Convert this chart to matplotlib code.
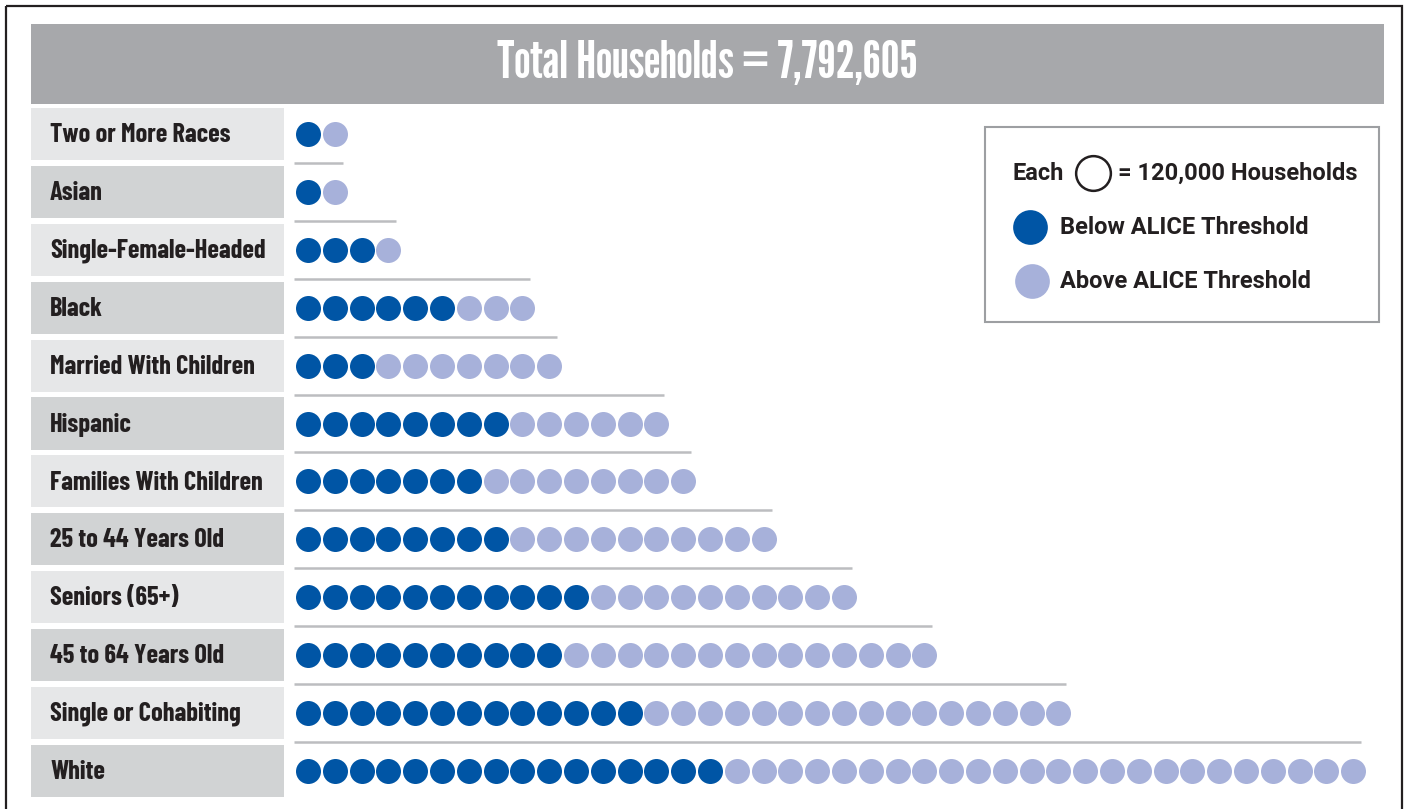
import matplotlib
matplotlib.use("Agg")
import matplotlib.pyplot as plt
from matplotlib.patches import Rectangle

categories = ["Two or More Races", "Asian", "Single-Female-Headed", "Black",
              "Married With Children", "Hispanic", "Families With Children",
              "25 to 44 Years Old", "Seniors (65+)", "45 to 64 Years Old",
              "Single or Cohabiting", "White"]
below_alice = [1, 1, 3, 6, 3, 8, 7, 8, 11, 10, 13, 16]
above_alice = [1, 1, 1, 3, 7, 6, 8, 10, 10, 14, 16, 24]
title_text = "Total Households = 7,792,605"
unit_text = "= 120,000 Households"

DARK = "#0055a5"
LIGHT = "#a7b1da"
TXT = "#231f20"
TITLE_FONT = ["League Gothic", "Oswald", "DejaVu Sans"]
LABEL_FONT = ["Barlow Condensed", "League Gothic", "DejaVu Sans"]

W, H = 1409, 809
fig = plt.figure(figsize=(W / 100, H / 100), dpi=100)

# background axes in pixel coordinates
bg = fig.add_axes([0, 0, 1, 1])
bg.set_xlim(0, W)
bg.set_ylim(H, 0)
bg.axis("off")
bg.add_patch(Rectangle((6, 6), 1396, 820, fill=False, ec=TXT, lw=1.6, clip_on=False))
bg.add_patch(Rectangle((31, 24), 1353, 80, fc="#a7a8ab", ec="none"))
bg.text(707, 64, title_text, color="white", fontsize=38, family=TITLE_FONT,
        ha="center", va="center")

# legend
bg.add_patch(Rectangle((985, 127), 394, 195, fill=False, ec="#9d9fa2", lw=1.5))
lf = dict(family=["Roboto", "DejaVu Sans"], fontweight="bold", fontstretch="normal",
          fontsize=17, color=TXT, va="center")
bg.text(1012, 173, "Each", **lf)
bg.scatter([1093], [173], s=25 ** 2, facecolor="white", edgecolor=TXT, lw=1.8)
bg.text(1118, 173, unit_text, **lf)
bg.scatter([1030], [227], s=25 ** 2, color=DARK, lw=0)
bg.text(1060, 227, "Below ALICE Threshold", **lf)
bg.scatter([1032], [281], s=25 ** 2, color=LIGHT, lw=0)
bg.text(1060, 281, "Above ALICE Threshold", **lf)

# geometry for rows
y0_px, y1_px = 105, 800
pitch = 57.9
first = 134
ylo = (y0_px - first) / pitch
yhi = (y1_px - first) / pitch

# label panel
lab = fig.add_axes([31 / W, 1 - y1_px / H, (284 - 31) / W, (y1_px - y0_px) / H])
n = len(categories)
rows = list(range(n))
lab.barh(rows, [1] * n, left=0, height=0.9,
         color=["#e6e7e8" if i % 2 == 0 else "#d1d3d4" for i in rows])
lab.set_xlim(0, 1)
lab.set_ylim(yhi, ylo)
lab.axis("off")
for i, c in enumerate(categories):
    lab.text(0.075, i + 0.02, c, fontsize=19, fontweight="bold", color=TXT, family=LABEL_FONT,
             va="center", ha="left")

# dot panel
sp = 26.8
x_left_px, x_right_px = 293, 1385
ax = fig.add_axes([x_left_px / W, 1 - y1_px / H, (x_right_px - x_left_px) / W, (y1_px - y0_px) / H])
ax.set_xlim((x_left_px - 308) / sp, (x_right_px - 308) / sp)
ax.set_ylim(yhi, ylo)
ax.axis("off")
for i, (b, a) in enumerate(zip(below_alice, above_alice)):
    tot = b + a
    ax.scatter(range(b), [i] * b, s=18 ** 2, color=DARK, lw=0, zorder=3)
    ax.scatter(range(b, tot), [i] * a, s=18 ** 2, color=LIGHT, lw=0, zorder=3)
    if i > 0:
        ax.hlines(i - 0.5, (x_left_px - 308) / sp + 0.05, tot - 1 + 0.3, color="#bcbdc0", lw=1.8)

fig.savefig("out.png", dpi=100, facecolor="white")
